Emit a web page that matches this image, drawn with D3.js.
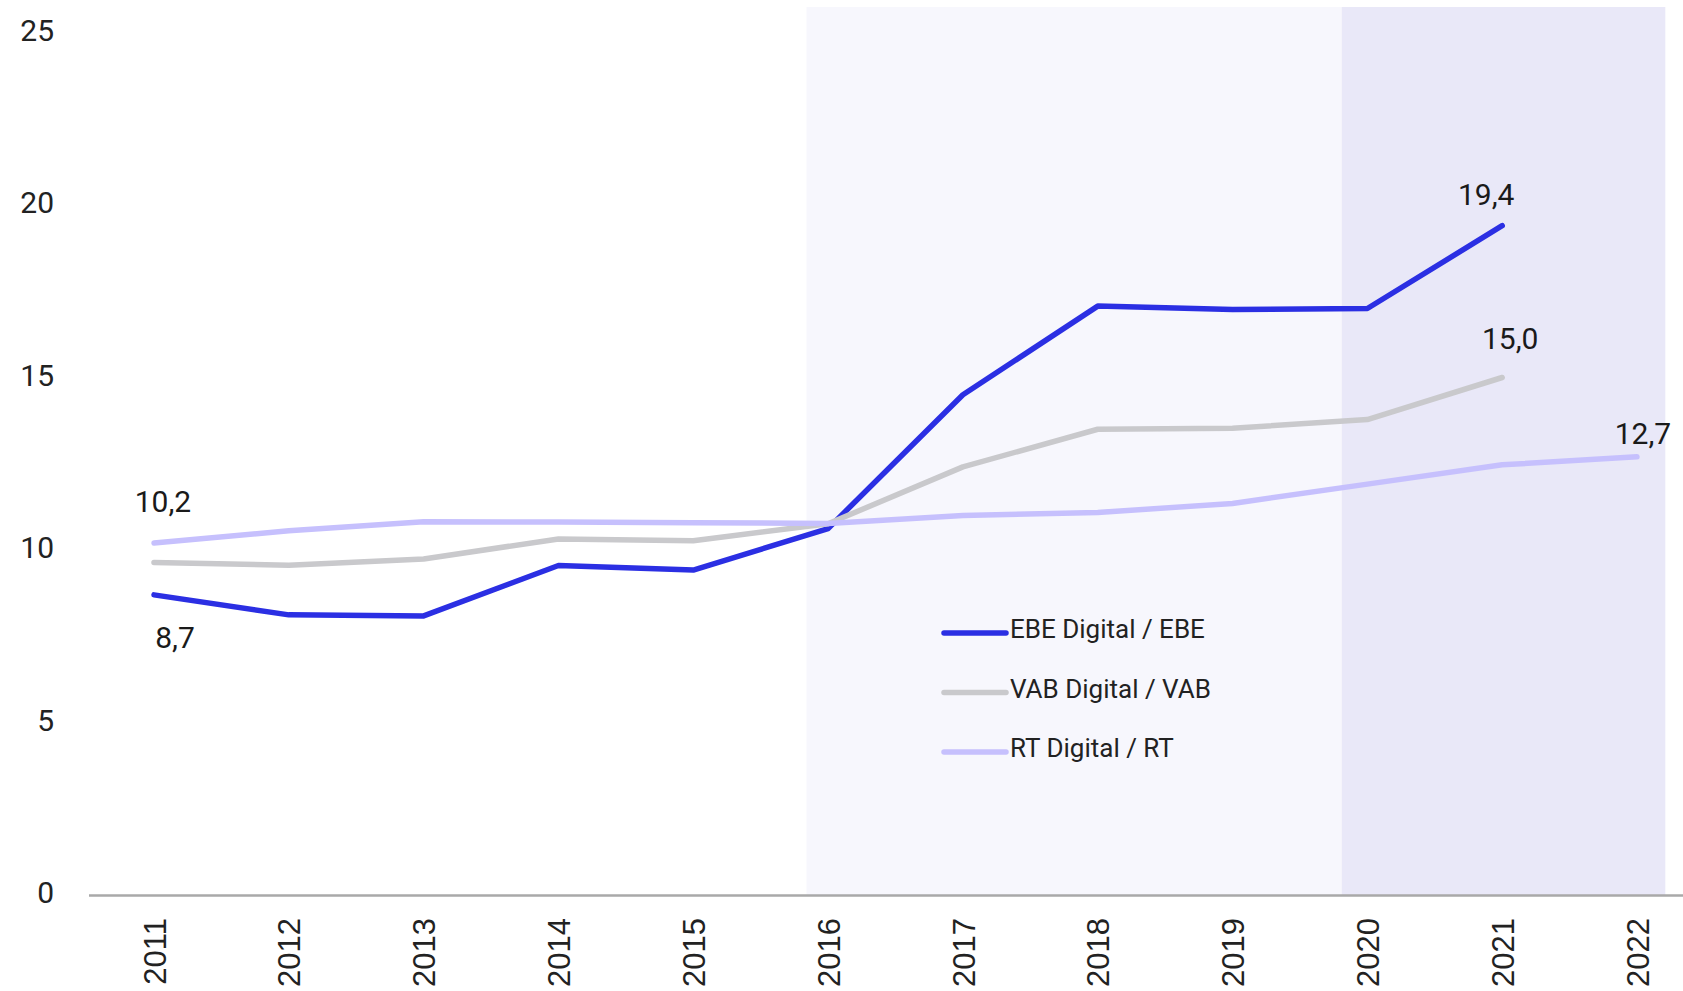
<!DOCTYPE html>
<html>
<head>
<meta charset="utf-8">
<script src="https://cdn.jsdelivr.net/npm/d3@7"></script>
<style>
  html, body { margin: 0; padding: 0; background: #fff; }
  svg { display: block; }
  .ytick text { font-family: Roboto, "Noto Sans", sans-serif; font-size: 30px; fill: #222; }
  .xtick text { font-family: "Liberation Sans", Arial, sans-serif; font-size: 31px; fill: #222; }
  .val { font-family: Roboto, "Noto Sans", sans-serif; font-size: 30px; fill: #1a1a1a; }
  .legend text { font-family: Roboto, "Noto Sans", sans-serif; font-size: 26px; fill: #222; }
</style>
</head>
<body>
<svg id="chart" width="1683" height="991"></svg>
<script>
(() => {
  const W = 1683;
  const H = 991;

  // data
  const years = [2011, 2012, 2013, 2014, 2015, 2016, 2017, 2018, 2019, 2020, 2021, 2022];
  const ebe = [8.7, 8.12, 8.09, 9.55, 9.42, 10.62, 14.5, 17.07, 16.97, 17.0, 19.4, null];
  const vab = [9.64, 9.56, 9.74, 10.32, 10.27, 10.76, 12.41, 13.5, 13.53, 13.78, 15.0, null];
  const rt = [10.2, 10.56, 10.82, 10.81, 10.79, 10.77, 11.0, 11.09, 11.35, 11.91, 12.47, 12.7];
  const yTicks = [0, 5, 10, 15, 20, 25];

  const seriesNames = ["EBE Digital / EBE", "VAB Digital / VAB", "RT Digital / RT"];
  const seriesValues = [ebe, vab, rt];
  const seriesColors = ["#2b2fe3", "#c9c9cc", "#c6c0fd"];

  // shaded periods (in year units) and their fills
  const shadeSpans = [[2015.84, 2019.81], [2019.81, 2022.21]];
  const shadeColors = ["#f7f7fd", "#e9e8f8"];

  // end-point labels: [series index, year index, text]
  const valueLabels = [
    [2, 0, "10,2"],
    [0, 0, "8,7"],
    [0, 10, "19,4"],
    [1, 10, "15,0"],
    [2, 11, "12,7"],
  ];
  const labelOffsets = [[9, -31], [21, 53], [-16, -21], [8, -29], [6, -13]];

  const svg = d3.select("#chart").attr("viewBox", `0 0 ${W} ${H}`);

  const x = d3.scaleLinear().domain([2011, 2022]).range([154, 1637]);
  const y = d3.scaleLinear().domain([0, 25]).range([895, 32.5]);

  // background bands
  svg.append("g")
    .selectAll("rect")
    .data(shadeSpans)
    .join("rect")
    .attr("x", (d) => x(d[0]))
    .attr("width", (d) => x(d[1]) - x(d[0]))
    .attr("y", 7)
    .attr("height", y(0) - 7)
    .attr("fill", (d, i) => shadeColors[i]);

  // y axis labels
  const yAxis = svg.append("g")
    .attr("class", "ytick")
    .attr("transform", "translate(54,0)")
    .call(d3.axisLeft(y).tickValues(yTicks).tickSize(0).tickPadding(0));
  yAxis.select(".domain").remove();
  yAxis.selectAll("text").attr("dy", "0.25em");

  // baseline
  svg.append("line")
    .attr("x1", 89)
    .attr("x2", W)
    .attr("y1", y(0) + 0.5)
    .attr("y2", y(0) + 0.5)
    .attr("stroke", "#a9a9a9")
    .attr("stroke-width", 2.4);

  // x axis labels, rotated
  const xAxis = svg.append("g")
    .attr("class", "xtick")
    .attr("transform", `translate(0,${y(0)})`)
    .call(d3.axisBottom(x).tickValues(years).tickFormat(d3.format("d")).tickSize(0));
  xAxis.select(".domain").remove();
  xAxis.selectAll("text")
    .attr("transform", "rotate(-90)")
    .attr("text-anchor", "end")
    .attr("x", -23)
    .attr("y", 0)
    .attr("dy", "0.36em");

  // lines
  const line = d3.line()
    .defined((d) => d != null)
    .x((d, i) => x(years[i]))
    .y((d) => y(d));

  svg.append("g")
    .selectAll("path")
    .data(seriesValues)
    .join("path")
    .attr("d", (d) => line(d))
    .attr("fill", "none")
    .attr("stroke", (d, i) => seriesColors[i])
    .attr("stroke-width", 5.5)
    .attr("stroke-linejoin", "round")
    .attr("stroke-linecap", "round");

  // value labels
  svg.append("g")
    .selectAll("text")
    .data(valueLabels)
    .join("text")
    .attr("class", "val")
    .attr("text-anchor", "middle")
    .attr("x", (d, i) => x(years[d[1]]) + labelOffsets[i][0])
    .attr("y", (d, i) => y(seriesValues[d[0]][d[1]]) + labelOffsets[i][1])
    .text((d) => d[2]);

  // legend
  const legend = svg.append("g")
    .attr("class", "legend")
    .attr("transform", "translate(944,633)");

  const item = legend.selectAll("g")
    .data(seriesNames)
    .join("g")
    .attr("transform", (d, i) => `translate(0,${i * 59.5})`);

  item.append("line")
    .attr("x1", 0)
    .attr("x2", 62)
    .attr("stroke", (d, i) => seriesColors[i])
    .attr("stroke-width", 5.5)
    .attr("stroke-linecap", "round");

  item.append("text")
    .attr("x", 66)
    .attr("y", 5)
    .text((d) => d);
})();
</script>
</body>
</html>
